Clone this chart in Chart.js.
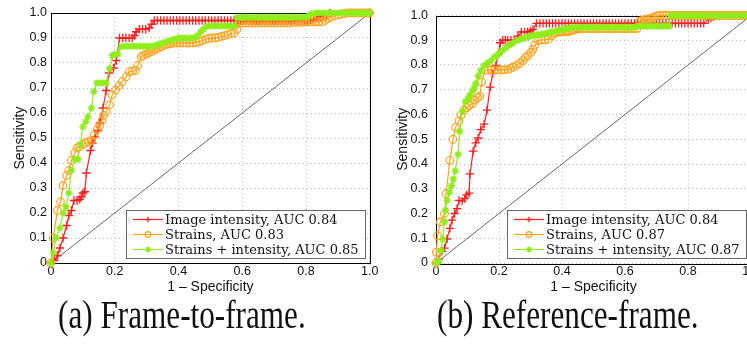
<!DOCTYPE html>
<html>
<head>
<meta charset="utf-8">
<script src="https://cdn.jsdelivr.net/npm/chart.js@4.4.1/dist/chart.umd.min.js"></script>
<style>
  html, body { margin: 0; padding: 0; background: #fff; overflow: hidden; }
  body { width: 747px; height: 347px; position: relative; }
  canvas { position: absolute; top: 0; }
  #rocA { left: 0; }
  #rocB { left: 383px; }
  .caption { position: absolute; top: 293px; font-family: "Liberation Serif", serif; font-size: 39px; line-height: 44px; white-space: nowrap; color: #111; transform: scaleX(0.8); transform-origin: 0 0; }
</style>
</head>
<body>
<canvas id="rocA" width="380" height="300"></canvas>
<canvas id="rocB" width="380" height="300"></canvas>
<div class="caption" style="left:58px">(a) Frame-to-frame.</div>
<div class="caption" style="left:437px">(b) Reference-frame.</div>
<script>
// legend text for the two panels
const labelsA = ['Image intensity, AUC 0.84', 'Strains, AUC 0.83', 'Strains + intensity, AUC 0.85'];
const labelsB = ['Image intensity, AUC 0.84', 'Strains, AUC 0.87', 'Strains + intensity, AUC 0.87'];

const chance = [[0, 0], [1, 1]];

// (a) frame-to-frame, [1 - specificity, sensitivity]
const ffIntensity = [[0,0],[0.01,0.01],[0.02,0.03],[0.028,0.06],[0.038,0.1],[0.049,0.15],[0.056,0.19],[0.064,0.21],[0.072,0.25],[0.082,0.25],[0.09,0.255],[0.095,0.265],[0.1,0.28],[0.106,0.285],[0.111,0.36],[0.124,0.45],[0.13,0.48],[0.137,0.505],[0.147,0.53],[0.153,0.56],[0.163,0.62],[0.173,0.69],[0.182,0.76],[0.196,0.78],[0.205,0.81],[0.215,0.9],[0.225,0.9],[0.235,0.9],[0.245,0.9],[0.255,0.9],[0.262,0.91],[0.267,0.925],[0.277,0.935],[0.287,0.935],[0.297,0.935],[0.308,0.94],[0.316,0.955],[0.324,0.97],
  [0.334,0.97],[0.344,0.97],[0.354,0.97],[0.364,0.97],[0.374,0.97],[0.384,0.97],[0.394,0.97],[0.404,0.97],[0.414,0.97],[0.424,0.97],[0.434,0.97],[0.444,0.97],[0.454,0.97],[0.464,0.97],[0.474,0.97],[0.484,0.97],[0.494,0.97],[0.504,0.97],[0.514,0.97],[0.524,0.97],[0.534,0.97],[0.544,0.97],[0.554,0.97],[0.564,0.97],[0.574,0.97],[0.584,0.97],[0.594,0.97],[0.604,0.97],[0.614,0.97],[0.624,0.97],[0.634,0.97],[0.644,0.97],[0.654,0.97],[0.664,0.97],[0.674,0.97],[0.684,0.97],[0.694,0.97],[0.704,0.97],[0.714,0.97],[0.724,0.97],[0.734,0.97],[0.744,0.97],[0.754,0.97],[0.764,0.97],[0.774,0.97],[0.784,0.97],[0.794,0.97],[0.804,0.97],
  [0.814,0.972],[0.824,0.975],[0.834,0.98],[0.844,0.985],[0.854,0.99],[0.864,0.99],[0.875,1],[1,1]];

const ffStrains = [[0,0],[0.007,0.1],[0.02,0.21],[0.03,0.245],[0.038,0.31],[0.049,0.35],[0.056,0.37],[0.064,0.41],[0.075,0.44],[0.082,0.46],[0.09,0.465],[0.1,0.475],[0.109,0.48],[0.116,0.485],[0.127,0.49],[0.135,0.51],[0.145,0.535],[0.153,0.55],[0.16,0.57],[0.165,0.59],[0.173,0.605],[0.184,0.632],[0.192,0.672],[0.203,0.692],[0.213,0.708],[0.223,0.725],[0.236,0.745],[0.246,0.765],[0.256,0.768],[0.265,0.77],[0.272,0.79],[0.283,0.825],[0.29,0.83],[0.298,0.835],[0.306,0.84],[0.314,0.845],[0.322,0.85],[0.329,0.855],[0.337,0.86],[0.345,0.865],[0.353,0.87],[0.36,0.874],[0.368,0.876],[0.376,0.878],
  [0.385,0.88],[0.395,0.88],[0.405,0.88],[0.415,0.88],[0.425,0.88],[0.435,0.88],[0.445,0.88],[0.455,0.882],[0.465,0.886],[0.475,0.89],[0.485,0.895],[0.495,0.898],[0.505,0.9],[0.515,0.9],[0.525,0.902],[0.535,0.906],[0.545,0.91],[0.555,0.914],[0.565,0.918],[0.575,0.92],[0.583,0.935],[0.59,0.958],
  [0.6,0.96],[0.61,0.96],[0.62,0.96],[0.63,0.96],[0.64,0.96],[0.65,0.96],[0.66,0.96],[0.67,0.96],[0.68,0.96],[0.69,0.96],[0.7,0.96],[0.71,0.96],[0.72,0.96],[0.73,0.96],[0.74,0.96],[0.75,0.96],[0.76,0.963],[0.77,0.963],[0.78,0.963],[0.79,0.963],[0.8,0.964],[0.81,0.964],[0.82,0.964],[0.83,0.965],[0.84,0.965],[0.85,0.965],
  [0.86,0.97],[0.87,0.978],[0.88,0.985],[0.89,0.99],[0.9,0.992],[0.91,0.995],[0.92,0.998],[0.93,1],[0.94,1],[0.95,1],[0.96,1],[0.97,1],[0.98,1],[0.99,1],[1,1]];

const ffCombined = [[0,0],[0.007,0.04],[0.016,0.1],[0.028,0.14],[0.038,0.2],[0.047,0.225],[0.056,0.28],[0.064,0.37],[0.075,0.415],[0.085,0.415],[0.092,0.475],[0.1,0.545],[0.109,0.565],[0.116,0.585],[0.127,0.62],[0.134,0.685],[0.144,0.72],[0.153,0.72],[0.163,0.72],[0.173,0.72],[0.184,0.778],[0.192,0.83],[0.2,0.835],[0.21,0.835],[0.22,0.865],
  [0.23,0.867],[0.24,0.867],[0.25,0.867],[0.26,0.867],[0.27,0.867],[0.28,0.867],[0.29,0.867],[0.3,0.867],[0.31,0.867],[0.32,0.867],[0.33,0.872],[0.34,0.876],[0.35,0.88],[0.36,0.884],[0.37,0.888],[0.38,0.892],[0.39,0.896],[0.4,0.9],[0.41,0.9],[0.42,0.9],[0.43,0.9],[0.44,0.9],[0.45,0.902],[0.46,0.91],[0.47,0.925],[0.478,0.935],[0.486,0.945],
  [0.495,0.948],[0.505,0.948],[0.515,0.948],[0.525,0.948],[0.535,0.948],[0.545,0.948],[0.555,0.948],[0.565,0.948],[0.575,0.948],
  [0.584,0.983],[0.594,0.983],[0.604,0.983],[0.614,0.983],[0.624,0.983],[0.634,0.983],[0.644,0.983],[0.654,0.983],[0.664,0.983],[0.674,0.983],[0.684,0.983],[0.694,0.983],[0.704,0.983],[0.714,0.983],[0.724,0.983],[0.734,0.983],[0.744,0.983],[0.754,0.983],[0.764,0.983],[0.774,0.983],[0.784,0.983],[0.794,0.983],[0.804,0.983],
  [0.81,0.99],[0.817,0.997],[0.83,1],[0.84,1],[0.85,1],[0.86,1],[0.87,1],[0.88,1],[0.89,1],[0.9,1],[0.91,1],[0.92,1],[0.93,1],[0.94,1],[0.95,1],[0.96,1],[0.97,1],[0.98,1],[0.99,1],[1,1]];

// (b) reference-frame
const rfIntensity = [[0,0],[0.009,0.016],[0.019,0.047],[0.027,0.06],[0.035,0.097],[0.044,0.14],[0.051,0.173],[0.059,0.2],[0.067,0.22],[0.073,0.253],[0.083,0.25],[0.091,0.26],[0.097,0.275],[0.105,0.282],[0.108,0.36],[0.118,0.452],[0.126,0.485],[0.134,0.505],[0.142,0.539],[0.153,0.561],[0.162,0.618],[0.172,0.711],[0.18,0.765],[0.19,0.798],[0.198,0.844],[0.204,0.89],[0.212,0.9],[0.22,0.9],[0.228,0.9],[0.238,0.9],[0.248,0.9],[0.26,0.918],[0.271,0.934],[0.281,0.934],[0.291,0.934],[0.3,0.938],[0.308,0.944],[0.319,0.968],
  [0.33,0.968],[0.34,0.968],[0.35,0.968],[0.36,0.968],[0.37,0.968],[0.38,0.968],[0.39,0.968],[0.4,0.968],[0.41,0.968],[0.42,0.968],[0.43,0.968],[0.44,0.968],[0.45,0.968],[0.46,0.968],[0.47,0.968],[0.48,0.968],[0.49,0.968],[0.5,0.968],[0.51,0.968],[0.52,0.968],[0.53,0.968],[0.54,0.968],[0.55,0.968],[0.56,0.968],[0.57,0.968],[0.58,0.968],[0.59,0.968],[0.6,0.968],[0.61,0.968],[0.62,0.968],[0.63,0.968],[0.64,0.968],[0.65,0.968],[0.66,0.968],[0.67,0.968],[0.68,0.968],[0.69,0.968],[0.7,0.968],[0.71,0.968],[0.72,0.968],[0.73,0.968],[0.74,0.968],[0.75,0.968],[0.76,0.968],[0.77,0.968],[0.78,0.968],[0.79,0.968],[0.8,0.968],[0.81,0.968],[0.82,0.968],[0.83,0.968],[0.84,0.968],[0.85,0.968],
  [0.865,0.984],[0.873,0.99],[0.881,0.995],[0.89,1],[1,1]];

const rfStrains = [[0,0],[0.001,0.043],[0.005,0.11],[0.014,0.166],[0.027,0.2],[0.032,0.28],[0.044,0.415],[0.054,0.5],[0.062,0.548],[0.073,0.574],[0.08,0.598],[0.089,0.618],[0.097,0.628],[0.105,0.636],[0.116,0.645],[0.123,0.658],[0.132,0.668],[0.139,0.674],[0.145,0.731],[0.155,0.778],[0.165,0.78],[0.175,0.78],[0.186,0.78],[0.196,0.78],[0.207,0.78],[0.217,0.78],[0.228,0.782],[0.236,0.786],[0.244,0.791],[0.255,0.798],[0.266,0.807],[0.276,0.818],[0.284,0.831],[0.292,0.838],[0.301,0.851],[0.308,0.864],[0.314,0.88],[0.324,0.898],[0.335,0.902],[0.346,0.902],[0.357,0.904],[0.367,0.918],[0.378,0.928],[0.386,0.932],[0.394,0.934],[0.402,0.934],[0.41,0.934],[0.418,0.935],[0.426,0.937],[0.434,0.94],[0.442,0.943],[0.45,0.946],
  [0.458,0.947],[0.468,0.947],[0.478,0.947],[0.488,0.947],[0.498,0.947],[0.508,0.947],[0.518,0.947],[0.528,0.947],[0.538,0.947],[0.548,0.947],[0.558,0.947],[0.568,0.947],[0.578,0.947],[0.588,0.947],[0.598,0.947],[0.608,0.947],[0.618,0.947],[0.628,0.947],[0.638,0.947],
  [0.646,0.977],[0.654,0.98],[0.662,0.984],[0.67,0.985],[0.678,0.987],[0.686,0.99],[0.694,0.995],[0.702,0.998],[0.71,1],[0.72,1],[0.73,1],[0.74,1],[0.75,1],[0.76,1],[0.77,1],[0.78,1],[0.79,1],[0.8,1],[0.81,1],[0.82,1],[0.83,1],[0.84,1],[0.85,1],[0.86,1],[0.87,1],[0.88,1],[0.89,1],[0.9,1],[0.91,1],[0.92,1],[0.93,1],[0.94,1],[0.95,1],[0.96,1],[0.97,1],[0.98,1],[0.99,1],[1,1]];

const rfCombined = [[0,0],[0.009,0.007],[0.016,0.05],[0.021,0.096],[0.027,0.166],[0.03,0.213],[0.035,0.253],[0.043,0.286],[0.049,0.312],[0.055,0.339],[0.061,0.372],[0.07,0.439],[0.075,0.532],[0.084,0.612],[0.094,0.652],[0.102,0.665],[0.108,0.678],[0.116,0.694],[0.121,0.707],[0.126,0.725],[0.134,0.755],[0.142,0.778],[0.153,0.798],[0.164,0.809],[0.175,0.818],[0.185,0.831],[0.194,0.838],[0.201,0.848],[0.212,0.86],[0.223,0.871],[0.233,0.88],[0.244,0.888],[0.255,0.898],[0.263,0.901],[0.271,0.904],[0.279,0.908],[0.287,0.911],[0.295,0.915],[0.303,0.918],[0.311,0.92],[0.319,0.922],[0.327,0.923],[0.335,0.924],[0.343,0.926],[0.351,0.928],[0.359,0.931],[0.367,0.934],[0.375,0.935],[0.383,0.937],[0.391,0.94],[0.4,0.944],[0.408,0.945],[0.415,0.947],[0.423,0.949],[0.431,0.952],
  [0.44,0.952],[0.45,0.952],[0.46,0.952],[0.47,0.952],[0.48,0.952],[0.49,0.952],[0.5,0.952],[0.51,0.952],[0.52,0.952],[0.53,0.952],[0.54,0.952],[0.55,0.952],[0.56,0.952],[0.57,0.952],[0.58,0.952],[0.59,0.952],[0.6,0.952],[0.61,0.952],[0.62,0.952],[0.63,0.952],
  [0.64,0.955],[0.65,0.957],[0.66,0.957],[0.67,0.957],[0.68,0.957],[0.69,0.957],[0.7,0.957],[0.71,0.957],[0.72,0.957],[0.73,0.957],[0.74,0.957],
  [0.744,1],[0.75,1],[0.76,1],[0.77,1],[0.78,1],[0.79,1],[0.8,1],[0.81,1],[0.82,1],[0.83,1],[0.84,1],[0.85,1],[0.86,1],[0.87,1],[0.88,1],[0.89,1],[0.9,1],[0.91,1],[0.92,1],[0.93,1],[0.94,1],[0.95,1],[0.96,1],[0.97,1],[0.98,1],[0.99,1],[1,1]];

// marker / colour per series (matlab-ish)
const seriesStyles = [
  { color: '#ff1f1f', pointStyle: 'cross', radius: 4.2, width: 1.3, order: 3 },
  { color: '#ffa21a', pointStyle: 'circle', radius: 3.8, width: 1.2, order: 2 },
  { color: '#8eee1c', pointStyle: 'star', radius: 3.6, width: 1.6, order: 1 }
];

Chart.defaults.font.family = '"Liberation Sans", Arial, sans-serif';
Chart.defaults.color = '#111';

// black axes box around the plot area
const axesBox = {
  id: 'axesBox',
  beforeDatasetsDraw(chart) {
    const { ctx, chartArea: a } = chart;
    ctx.save();
    ctx.strokeStyle = '#000';
    ctx.lineWidth = 1;
    ctx.strokeRect(Math.round(a.left) + 0.5, Math.round(a.top) + 0.5, Math.round(a.width), Math.round(a.height));
    ctx.restore();
  }
};

// legend box in the lower right corner of the axes
const cornerLegend = {
  id: 'cornerLegend',
  afterDatasetsDraw(chart) {
    const { ctx, chartArea: a } = chart;
    const items = chart.data.datasets.filter(d => d.label);
    ctx.save();
    ctx.font = '13px "DejaVu Serif", serif';
    const textW = Math.max(...items.map(d => ctx.measureText(d.label).width));
    const rowH = 15;
    const w = Math.round(39 + textW + 6), h = items.length * rowH + 3;
    const x = Math.round(a.right - 5 - w), y = Math.round(a.bottom - 5 - h);
    ctx.fillStyle = '#fff';
    ctx.fillRect(x, y, w, h);
    ctx.strokeStyle = '#666';
    ctx.lineWidth = 1;
    ctx.strokeRect(x + 0.5, y + 0.5, w, h);
    items.forEach((d, i) => {
      const cy = y + 9.5 + i * rowH;
      ctx.strokeStyle = d.borderColor;
      ctx.lineWidth = 1.2;
      ctx.beginPath();
      ctx.moveTo(x + 7, cy);
      ctx.lineTo(x + 37, cy);
      ctx.stroke();
      ctx.fillStyle = d.pointBackgroundColor;
      ctx.lineWidth = d.pointBorderWidth;
      Chart.helpers.drawPoint(ctx, { pointStyle: d.pointStyle, radius: 2.8, rotation: 0, borderWidth: d.pointBorderWidth }, x + 22, cy);
      ctx.fillStyle = '#111';
      ctx.textBaseline = 'middle';
      ctx.fillText(d.label, x + 39, cy + 1);
    });
    ctx.restore();
  }
};

function makeRoc(id, series, labels, lay) {
  const datasets = series.map((pts, i) => {
    const s = seriesStyles[i];
    return {
      label: labels[i],
      data: pts.map(([x, y]) => ({ x, y })),
      showLine: true,
      borderColor: s.color,
      borderWidth: 1.2,
      pointStyle: s.pointStyle,
      pointRadius: s.radius,
      pointBorderColor: s.color,
      pointBackgroundColor: s.pointStyle === 'circle' ? 'rgba(255,255,255,0)' : s.color,
      pointBorderWidth: s.width,
      order: s.order,
      clip: false
    };
  });
  datasets.push({
    data: chance.map(([x, y]) => ({ x, y })),
    showLine: true,
    borderColor: '#666',
    borderWidth: 1,
    pointRadius: 0,
    order: 4
  });

  return new Chart(document.getElementById(id), {
    type: 'scatter',
    data: { datasets },
    options: {
      responsive: false,
      animation: false,
      devicePixelRatio: 1,
      events: [],
      layout: { padding: { top: 13, right: lay.padRight, left: 0, bottom: 0 } },
      plugins: { legend: { display: false }, tooltip: { enabled: false } },
      scales: {
        x: {
          type: 'linear', min: 0, max: 1,
          ticks: { stepSize: 0.2, padding: 1.5, maxRotation: 0, autoSkip: false, font: { size: 12.5 } },
          grid: { color: '#b8b8b8', drawTicks: false, borderDash: [1, 3] },
          border: { display: false, dash: [1, 3] },
          title: { display: true, text: '1 – Specificity', font: { size: 14 }, padding: { top: 0, bottom: 4.6 } },
          afterFit(scale) { scale.height = 37; }
        },
        y: {
          type: 'linear', min: 0, max: 1,
          ticks: { stepSize: 0.1, padding: lay.yTickPad, autoSkip: false, font: { size: 12.5 } },
          grid: { color: '#b8b8b8', drawTicks: false, borderDash: [1, 3] },
          border: { display: false, dash: [1, 3] },
          title: { display: true, text: 'Sensitivity', font: { size: 14 }, padding: { top: 11.5, bottom: 0 } },
          afterFit(scale) { scale.width = lay.yWidth; }
        }
      }
    },
    plugins: [axesBox, cornerLegend]
  });
}

makeRoc('rocA', [ffIntensity, ffStrains, ffCombined], labelsA, { yWidth: 51, padRight: 8, yTickPad: 4 });
makeRoc('rocB', [rfIntensity, rfStrains, rfCombined], labelsB, { yWidth: 53, padRight: 12, yTickPad: 8 });
</script>
</body>
</html>
